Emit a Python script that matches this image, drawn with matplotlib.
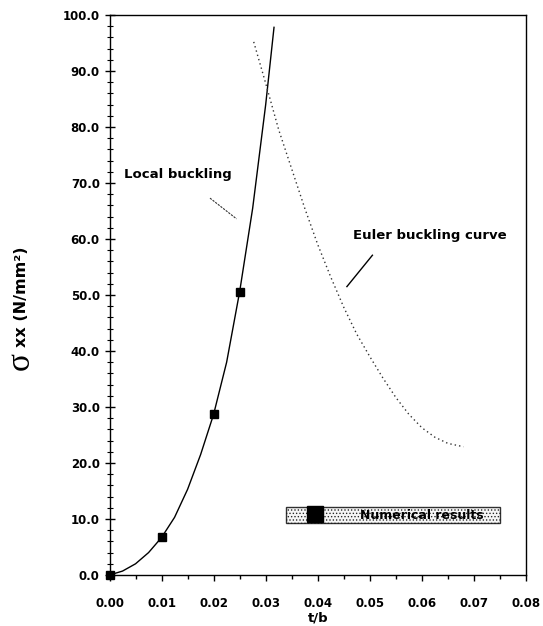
import matplotlib
matplotlib.use("Agg")
import matplotlib.pyplot as plt
from matplotlib.lines import Line2D
from matplotlib.ticker import MultipleLocator, FormatStrFormatter

# --- data ---
local_t = [0.0, 0.0025, 0.005, 0.0075, 0.010, 0.0125, 0.015, 0.0175, 0.020,
           0.0225, 0.025, 0.0275, 0.0300, 0.0316]
local_s = [0.0, 0.7, 2.0, 4.0, 6.7, 10.3, 15.3, 21.5, 28.7,
           38.0, 50.6, 65.5, 84.0, 97.8]

euler_t = [0.0277, 0.0300, 0.0325, 0.0350, 0.0375, 0.0400, 0.0425, 0.0450,
           0.0475, 0.0500, 0.0525, 0.0550, 0.0575, 0.0600, 0.0625, 0.0650, 0.0680]
euler_s = [95.2, 87.8, 79.5, 72.5, 65.5, 59.0, 53.2, 47.8,
           43.0, 39.0, 35.2, 31.7, 28.7, 26.3, 24.6, 23.5, 22.9]

num_t = [0.0, 0.010, 0.020, 0.025]
num_s = [0.0, 6.7, 28.7, 50.6]

xticks = [0.00, 0.01, 0.02, 0.03, 0.04, 0.05, 0.06, 0.07, 0.08]
yticks = [0, 10, 20, 30, 40, 50, 60, 70, 80, 90, 100]

plt.rcParams['font.family'] = ['DejaVu Sans']
plt.rcParams['hatch.color'] = '#9a9a9a'
plt.rcParams['hatch.linewidth'] = 0.6

W, H = 543, 626
fig = plt.figure(figsize=(W / 100, H / 100), dpi=100)
ax = fig.add_axes([109.5 / W, 1 - 575 / H, (526 - 109.5) / W, (575 - 15) / H])

ax.plot(local_t, local_s, color='black', lw=1.0)
ax.plot(euler_t, euler_s, color='#333333', lw=1.0, linestyle=(0, (1, 2.2)))
ax.plot(num_t, num_s, linestyle='none', marker='s', markersize=5.5,
        color='black', clip_on=False, zorder=5)

ax.set_xlim(0, 0.08)
ax.set_ylim(0, 100)
ax.set_xticks(xticks)
ax.set_yticks(yticks)
ax.xaxis.set_minor_locator(MultipleLocator(0.005))
ax.yaxis.set_minor_locator(MultipleLocator(2))
ax.xaxis.set_major_formatter(FormatStrFormatter('%.2f'))
ax.yaxis.set_major_formatter(FormatStrFormatter('%.1f'))
ax.tick_params(axis='x', which='major', direction='out', length=4, width=1,
               labelsize=8.5, pad=12)
ax.tick_params(axis='x', which='minor', direction='out', length=3, width=1)
ax.tick_params(axis='y', which='major', direction='inout', length=7, width=1,
               labelsize=8.5, pad=3.5)
ax.tick_params(axis='y', which='minor', direction='inout', length=4, width=0.8)
for lab in ax.get_xticklabels() + ax.get_yticklabels():
    lab.set_fontweight('bold')
for sp in ax.spines.values():
    sp.set_linewidth(1.0)

ax.set_xlabel('t/b', fontsize=9.5, fontweight='bold', labelpad=1)

# y label: large sigma followed by "xx (N/mm²)"
fig.text(20 / W, 1 - 361 / H, 'σ', rotation=90, fontsize=24,
         family='Liberation Serif', ha='center', va='center')
fig.text(22 / W, 1 - 297 / H, 'xx (N/mm²)', rotation=90, fontsize=11.5,
         fontweight='bold', ha='center', va='center')

# annotations
ax.text(0.0028, 71.6, 'Local buckling', fontsize=9.5, fontweight='bold',
        va='center', ha='left')
ax.plot([0.0193, 0.0244], [67.3, 63.6], color='#333333', lw=0.8,
        linestyle=(0, (2, 1)))
ax.text(0.0467, 60.7, 'Euler buckling curve', fontsize=9.5, fontweight='bold',
        va='center', ha='left')
ax.plot([0.0505, 0.0456], [57.1, 51.5], color='black', lw=1.0)

handle = Line2D([], [], linestyle='none', marker='s', markersize=11.5,
                color='black')
leg = ax.legend([handle], ['Numerical results'], loc='lower left',
                bbox_to_anchor=(0.424, 0.093, 0.514, 0.027), mode='expand',
                frameon=True, fancybox=False, borderpad=0.1,
                handlelength=4.4, handletextpad=1.4, borderaxespad=0,
                prop={'weight': 'bold', 'size': 9})
fr = leg.get_frame()
fr.set_facecolor('#f4f4f4')
fr.set_edgecolor('black')
fr.set_linewidth(1.0)
fr.set_hatch('.....')

fig.savefig('out.png', dpi=100)
